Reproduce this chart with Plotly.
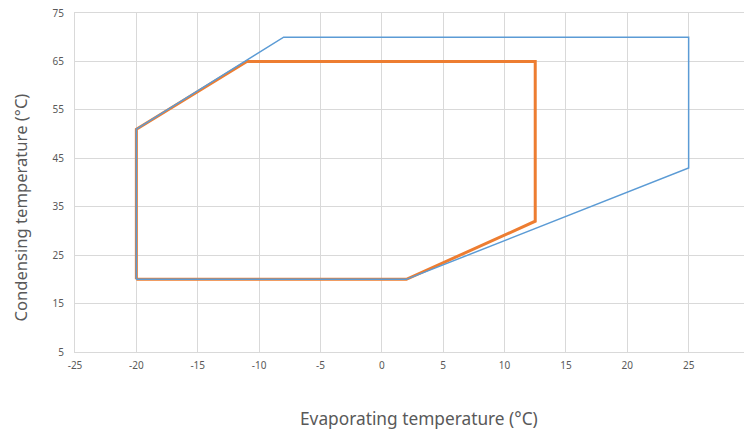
import plotly.graph_objects as go

# Outer envelope (blue)
blue_evap = [-20, -20, -8, 25, 25, 2, -20]
blue_cond = [20, 51, 70, 70, 43, 20, 20]

# Inner envelope (orange)
orange_evap = [-20, -20, -11, 12.5, 12.5, 2, -20]
orange_cond = [20, 51, 65, 65, 32, 20, 20]

# Tick labels
x_ticks = [-25, -20, -15, -10, -5, 0, 5, 10, 15, 20, 25, 30]
x_tick_labels = ["-25", "-20", "-15", "-10", "-5", "0", "5", "10", "15", "20", "25", "30"]
y_ticks = [5, 15, 25, 35, 45, 55, 65, 75]
y_tick_labels = ["5", "15", "25", "35", "45", "55", "65", "75"]

fig = go.Figure()
fig.add_trace(go.Scatter(x=orange_evap, y=orange_cond, mode="lines",
                         line=dict(color="#ED7D31", width=3), showlegend=False))
fig.add_trace(go.Scatter(x=blue_evap, y=blue_cond, mode="lines",
                         line=dict(color="#5B9BD5", width=1.5), showlegend=False))

font_family = "Noto Sans, Open Sans, sans-serif"
grid = "#D9D9D9"
fig.update_layout(
    width=744, height=424,
    margin=dict(l=67, r=2, t=5, b=80, autoexpand=False),
    paper_bgcolor="white", plot_bgcolor="white",
    font=dict(family=font_family, color="#595959"),
    xaxis=dict(range=[-25, 30], tickvals=x_ticks, ticktext=x_tick_labels,
               showgrid=True, gridcolor=grid, gridwidth=1, zeroline=False,
               showline=True, mirror=True, linecolor=grid, linewidth=1,
               ticks="", automargin=False, ticklabelstandoff=4,
               ticklabeloverflow="allow",
               tickfont=dict(size=10, color="#595959")),
    yaxis=dict(range=[5, 75], tickvals=y_ticks, ticktext=y_tick_labels,
               showgrid=True, gridcolor=grid, gridwidth=1, zeroline=False,
               showline=True, mirror=True, linecolor=grid, linewidth=1,
               ticks="", automargin=False, ticklabelstandoff=8,
               ticklabeloverflow="allow",
               tickfont=dict(size=10, color="#595959")),
    annotations=[
        dict(text="Evaporating temperature (°C)", xref="paper", yref="paper",
             x=0.51, y=0, yshift=-66, xanchor="center", yanchor="middle",
             showarrow=False, font=dict(size=17.3, color="#595959")),
        dict(text="Condensing temperature (°C)", xref="paper", yref="paper",
             x=0, y=0.5, xshift=-55, yshift=-25, xanchor="center", yanchor="middle",
             textangle=-90, showarrow=False, font=dict(size=16.6, color="#595959")),
    ],
)

fig.write_html("out.html")
